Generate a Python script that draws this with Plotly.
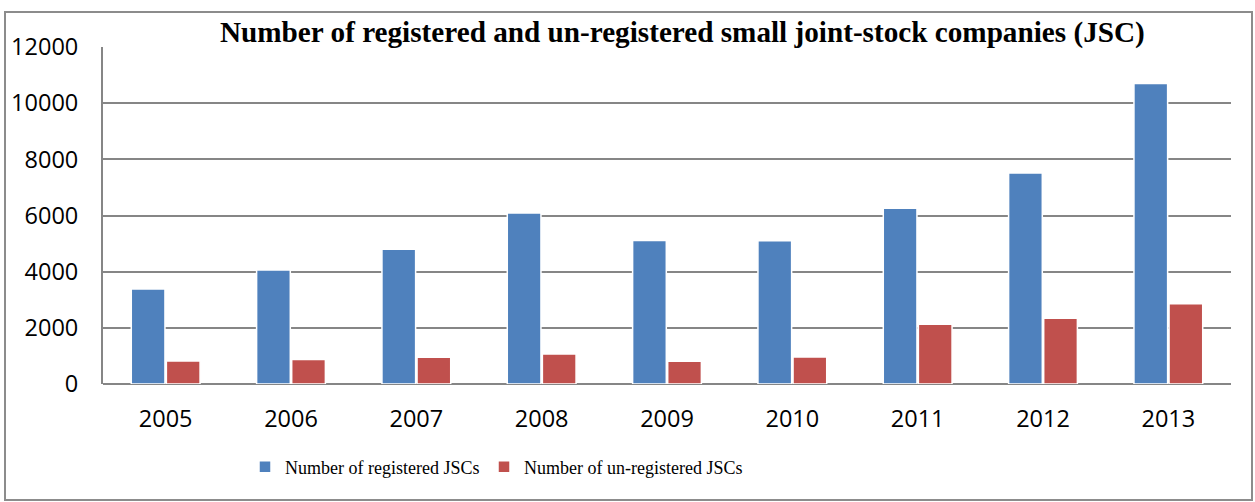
import plotly.graph_objects as go

years = ["2005", "2006", "2007", "2008", "2009", "2010", "2011", "2012", "2013"]
registered = [3380, 4060, 4800, 6090, 5110, 5100, 6260, 7510, 10700]
unregistered = [820, 870, 950, 1070, 810, 960, 2130, 2340, 2860]
y_ticks = [0, 2000, 4000, 6000, 8000, 10000, 12000]

W, H = 1255, 502
L, R, T, B = 103, 24, 47, 118
pw, ph = W - L - R, H - T - B

def px_x(x):
    return (x - L) / pw

def px_y(y):
    return (H - B - y) / ph

axis_font = dict(family="Open Sans", size=23.5, color="#000000")
legend_font = dict(family="Liberation Serif", size=18, color="#000000")
grid_col = "#868686"

fig = go.Figure()
fig.add_trace(go.Bar(
    name="Number of registered JSCs", x=years, y=registered, legend="legend",
    marker=dict(color="#4F81BD", line=dict(color="#ffffff", width=1.5)),
))
fig.add_trace(go.Bar(
    name="Number of un-registered JSCs", x=years, y=unregistered, legend="legend2",
    marker=dict(color="#C0504D", line=dict(color="#ffffff", width=1.5)),
))

legend_common = dict(
    orientation="h", y=px_y(467), xanchor="left", yanchor="middle",
    font=legend_font, bgcolor="rgba(0,0,0,0)",
)

fig.update_layout(
    width=W, height=H,
    margin=dict(l=L, r=R, t=T, b=B, pad=0),
    paper_bgcolor="#ffffff", plot_bgcolor="#ffffff",
    barmode="group", bargap=0.44, bargroupgap=0.04,
    showlegend=True,
    legend=dict(x=px_x(245), **legend_common),
    legend2=dict(x=px_x(484), **legend_common),
    xaxis=dict(
        showgrid=False, showline=False, zeroline=False, ticks="",
        tickfont=axis_font, ticklabelstandoff=18,
    ),
    yaxis=dict(
        range=[0, 12000], tickvals=y_ticks, tickformat="d",
        showgrid=True, gridcolor=grid_col, gridwidth=2,
        showline=True, linecolor=grid_col, linewidth=2,
        zeroline=True, zerolinecolor=grid_col, zerolinewidth=2,
        ticks="", tickfont=axis_font, ticklabelstandoff=18,
    ),
    annotations=[dict(
        text="<b>Number of registered and un-registered small joint-stock companies (JSC)</b>",
        xref="paper", yref="paper", x=px_x(682), y=px_y(33),
        xanchor="center", yanchor="middle", showarrow=False,
        font=dict(family="Liberation Serif", size=29.2, color="#000000"),
    )],
    shapes=[dict(
        type="rect", xref="paper", yref="paper",
        x0=px_x(5), x1=px_x(1252), y0=px_y(500), y1=px_y(12),
        line=dict(color="#8c8c8c", width=2), fillcolor="rgba(0,0,0,0)", layer="below",
    )],
)

fig.write_html("out.html")
